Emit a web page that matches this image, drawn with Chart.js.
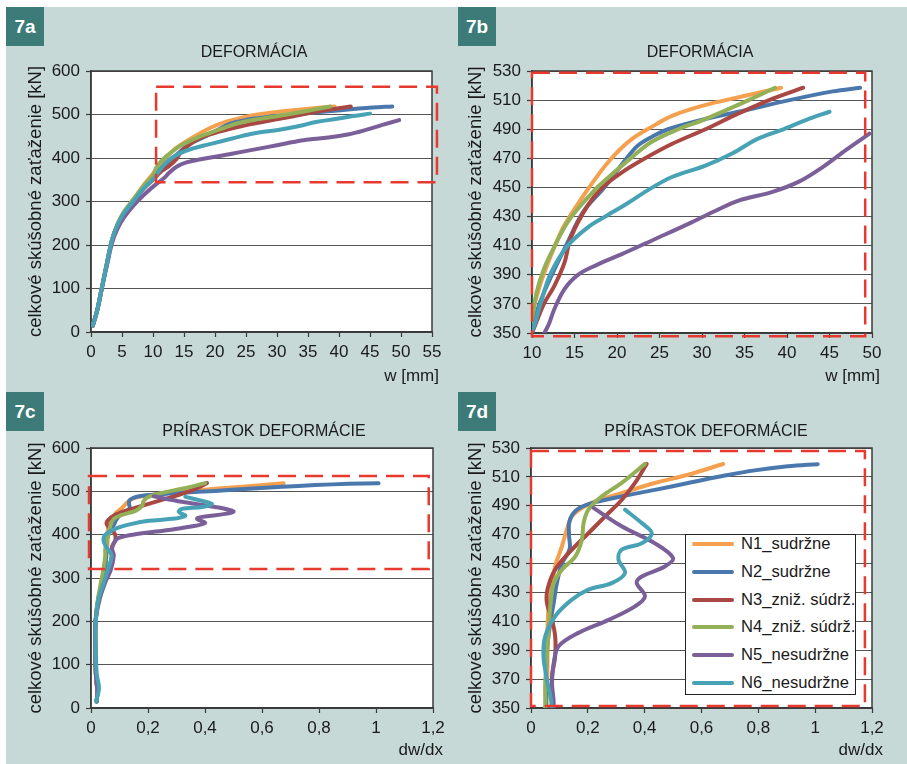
<!DOCTYPE html>
<html><head><meta charset="utf-8">
<script src="https://cdn.jsdelivr.net/npm/chart.js@4"></script>
<style>
html,body{margin:0;padding:0;background:#fff;}
body{width:907px;height:764px;position:relative;overflow:hidden;font-family:"Liberation Sans",Arial,sans-serif;color:#1a1a1a;}
#bg{position:absolute;left:6px;top:7px;right:0;bottom:0;background:#c6d9d7;}
canvas{position:absolute;}
.tag{position:absolute;width:38px;height:39px;background:#3c7b78;color:#fff;font-weight:bold;font-size:19px;display:flex;align-items:center;justify-content:center;}
.title{position:absolute;transform:translate(-50%,-50%);font-size:16px;white-space:nowrap;line-height:1;}
.xt{position:absolute;transform:translate(-100%,-50%);font-size:17px;white-space:nowrap;line-height:1;}
#legend{position:absolute;left:685px;top:534px;width:169px;height:159px;background:#fff;border:1px solid #222;}
.li{position:absolute;left:0;height:20px;transform:translateY(-50%);}
.li .sw{position:absolute;left:6px;top:8px;width:42px;height:4px;border-radius:2px;}
.li .tx{position:absolute;left:55px;top:1px;font-size:16.6px;line-height:18px;white-space:nowrap;}
</style></head>
<body>
<div id="bg"></div>
<canvas id="cA" width="445" height="383" style="left:6px;top:7px"></canvas>
<canvas id="cB" width="450" height="383" style="left:457px;top:7px"></canvas>
<canvas id="cC" width="445" height="374" style="left:6px;top:390px"></canvas>
<canvas id="cD" width="450" height="374" style="left:457px;top:390px"></canvas>
<div class="tag" style="left:6px;top:7px">7a</div>
<div class="tag" style="left:458px;top:7px">7b</div>
<div class="tag" style="left:6px;top:392px">7c</div>
<div class="tag" style="left:458px;top:392px">7d</div>
<div class="title" style="left:254px;top:52px">DEFORMÁCIA</div>
<div class="title" style="left:700px;top:52px">DEFORMÁCIA</div>
<div class="title" style="left:264px;top:431px">PRÍRASTOK DEFORMÁCIE</div>
<div class="title" style="left:706px;top:431px">PRÍRASTOK DEFORMÁCIE</div>
<div class="xt" style="left:439px;top:375px">w [mm]</div>
<div class="xt" style="left:880px;top:375px">w [mm]</div>
<div class="xt" style="left:443px;top:749px">dw/dx</div>
<div class="xt" style="left:883px;top:749px">dw/dx</div>
<div id="legend"></div>
<script>
// ---- series ----
const seriesNames = ['N1_sudržne','N2_sudržne','N3_zniž. súdrž.','N4_zniž. súdrž.','N5_nesudržne','N6_nesudržne'];
const seriesColors = ['#f5a04e','#4a78ad','#a94743','#93b057','#7a5f99','#47a2b6'];
const yAxisTitle = 'celkové skúšobné zaťaženie [kN]';

// deformation w [mm] vs total test load [kN]
const defN1 = [[0.3,15],[1.0,50],[1.8,105],[2.6,160],[3.4,212],[4.3,248],[5.3,275],[6.8,304],[8.5,338],[10,364],[11,384],[12,400],[13,414],[13.8,424],[16.6,449],[19.2,469],[21.7,483],[24.5,493],[26.4,499],[30,506],[34.3,512],[39.3,518.5]];
const defN2 = [[0.3,15],[1.0,50],[1.8,105],[2.6,160],[3.4,212],[4.3,247],[5.3,273],[6.8,300],[8.5,332],[10,354],[11,372],[12.5,392],[14,410],[16,433],[18.5,450],[21,469],[22.5,479],[24.5,486],[26,490],[30.4,497],[34.3,502],[40.3,510],[45.4,516],[48.6,518.5]];
const defN3 = [[0.3,15],[1.0,50],[1.8,105],[2.6,160],[3.4,212],[4.3,247],[5.3,273],[6.8,300],[8.5,330],[10,350],[11.4,370],[12.6,382],[13.8,398],[14.6,416],[16.6,438],[18.3,450],[20.5,460],[23.3,470],[26.5,480],[30.4,490],[34,500],[37.9,510],[41.9,518.5]];
const defN4 = [[0.3,15],[1.0,50],[1.8,105],[2.6,160],[3.4,212],[4.3,248],[5.3,276],[6.8,304],[8.5,336],[10,360],[10.5,377],[11.4,394],[12.6,409],[14.4,428],[17.5,449],[19.2,458],[21.6,470],[24,481],[27.2,490],[30.4,497],[35.5,510],[38.6,518.5]];
const defN5 = [[0.3,15],[1.0,50],[1.8,104],[2.6,155],[3.4,205],[4.3,238],[5.3,263],[6.8,290],[8.5,315],[10.5,340],[11.9,355],[12.6,366],[13.8,380],[15.4,390],[17.7,397],[20.5,404],[24.5,414.6],[28.4,425],[31.6,434],[34.3,441],[38.3,447],[41.4,454],[44.2,464],[47,476],[49.7,487]];
const defN6 = [[0.3,15],[1.0,50],[1.8,105],[2.6,160],[3.4,212],[4.3,247],[5.3,273],[6.8,300],[8.5,330],[10.2,354],[11,370],[12.2,391],[14.2,410],[16.6,422.7],[18.5,429.6],[21.2,439],[23.6,448],[26.4,457],[30.4,465],[33.6,473.5],[36.3,482.7],[39.4,489.6],[42.3,496.5],[45,502]];

// deformation increment dw/dx vs total test load [kN]
const rateN1 = [[0.02,15],[0.022,40],[0.017,80],[0.015,150],[0.016,200],[0.025,250],[0.04,290],[0.05,325],[0.055,355],[0.058,380],[0.058,404],[0.062,420],[0.074,434],[0.085,448],[0.109,462],[0.126,473.5],[0.144,482.7],[0.179,488.5],[0.226,493],[0.319,498.8],[0.436,505.8],[0.553,511.5],[0.676,518.9]];
const rateN2 = [[0.02,15],[0.022,40],[0.017,80],[0.015,150],[0.016,200],[0.025,250],[0.04,290],[0.05,325],[0.053,350],[0.053,372],[0.056,390],[0.068,409],[0.08,423],[0.091,436.5],[0.109,450],[0.136,460],[0.134,469],[0.134,478],[0.146,484],[0.17,488.5],[0.226,492.5],[0.319,496.5],[0.436,501],[0.553,505.8],[0.67,510.4],[0.787,514.5],[0.904,517.3],[1.009,518.8]];
const rateN3 = [[0.02,15],[0.022,40],[0.017,80],[0.015,150],[0.016,200],[0.027,250],[0.045,290],[0.065,325],[0.074,353.5],[0.074,372],[0.085,385.8],[0.085,399.6],[0.074,411],[0.056,422.7],[0.058,432],[0.085,445.8],[0.144,459.6],[0.202,471],[0.261,482.7],[0.319,494],[0.366,505.8],[0.407,519]];
const rateN4 = [[0.02,15],[0.022,40],[0.017,80],[0.015,150],[0.016,200],[0.024,250],[0.035,290],[0.045,325],[0.05,352.3],[0.05,367.3],[0.056,385.8],[0.062,404],[0.068,420.4],[0.08,436.5],[0.109,445.8],[0.156,455],[0.179,466.5],[0.185,478],[0.202,487.3],[0.249,496.5],[0.319,505.8],[0.401,519]];
const rateN5 = [[0.02,15],[0.022,40],[0.017,80],[0.015,150],[0.016,200],[0.03,250],[0.05,290],[0.07,320],[0.08,352.3],[0.074,367.3],[0.08,381],[0.097,392.7],[0.167,402],[0.273,411],[0.366,420.4],[0.401,427.3],[0.372,436.5],[0.39,441],[0.471,448],[0.5,453.8],[0.436,464],[0.319,475.8],[0.22,488.5]];
const rateN6 = [[0.018,15],[0.028,45],[0.02,80],[0.016,150],[0.017,200],[0.026,250],[0.045,290],[0.062,325],[0.072,352.3],[0.056,369.6],[0.044,385.8],[0.05,399.6],[0.085,413.5],[0.144,425],[0.202,432],[0.284,436.5],[0.331,443.5],[0.308,452.7],[0.319,459.6],[0.39,464],[0.425,471],[0.39,478],[0.331,487.3]];

// ---- tick labels ----
const wTicksFull = [0,5,10,15,20,25,30,35,40,45,50,55];
const wTicksZoom = [10,15,20,25,30,35,40,45,50];
const loadTicksFull = [0,100,200,300,400,500,600];
const loadTicksZoom = [350,370,390,410,430,450,470,490,510,530];
const rateTicks = [0,0.2,0.4,0.6,0.8,1,1.2];

// zoom-region frames [xMin, xMax, yMin, yMax] in data units
const frameA = [10.5, 55.8, 344, 564];
const frameB = [10, 49.2, 347.7, 528.8];
const frameC = [-0.007, 1.185, 321, 535.4];
const frameD = [0, 1.175, 351.4, 527.9];

const defSeries = [defN1,defN2,defN3,defN4,defN5,defN6];
const rateSeries = [rateN1,rateN2,rateN3,rateN4,rateN5,rateN6];

Chart.defaults.font.family = '"Liberation Sans", Arial, sans-serif';
Chart.defaults.color = '#1a1a1a';

const fmt = v => String(Math.round(v*10)/10).replace('.', ',');

function panelPlugin(frame){
  return {
    id:'panel',
    beforeDraw(c){
      const a=c.chartArea, ctx=c.ctx;
      ctx.save(); ctx.fillStyle='#fff';
      ctx.fillRect(a.left,a.top,a.right-a.left,a.bottom-a.top); ctx.restore();
    },
    beforeDatasetsDraw(c){
      const a=c.chartArea, ctx=c.ctx;
      ctx.save(); ctx.strokeStyle='#3a3a3a'; ctx.lineWidth=1.5;
      ctx.strokeRect(a.left,a.top,a.right-a.left,a.bottom-a.top); ctx.restore();
    },
    afterDatasetsDraw(c){
      const xs=c.scales.x, ys=c.scales.y, ctx=c.ctx;
      const x0=xs.getPixelForValue(frame[0]), x1=xs.getPixelForValue(frame[1]);
      const y0=ys.getPixelForValue(frame[3]), y1=ys.getPixelForValue(frame[2]);
      ctx.save(); ctx.strokeStyle='#e8392f'; ctx.lineWidth=2.5; ctx.setLineDash([18,9]);
      ctx.strokeRect(x0,y0,x1-x0,y1-y0); ctx.restore();
    }
  };
}

function makeChart(id, series, xt, yt, frame, g){
  return new Chart(document.getElementById(id), {
    type:'line',
    data:{datasets: series.map((d,i)=>({
      label:seriesNames[i], data:d, borderColor:seriesColors[i], backgroundColor:seriesColors[i],
      borderWidth:4, pointRadius:0, pointHoverRadius:0, tension:0.35, fill:false,
      order:series.length-1-i, borderCapStyle:'round', borderJoinStyle:'round'
    }))},
    options:{
      responsive:false, animation:false, devicePixelRatio:1, events:[],
      layout:{padding:{left:0,right:g.pr,top:g.pt,bottom:g.pb}},
      plugins:{legend:{display:false}, tooltip:{enabled:false}, title:{display:false}},
      scales:{
        x:{type:'linear', min:xt[0], max:xt[xt.length-1],
           afterBuildTicks:s=>{s.ticks=xt.map(v=>({value:v}));},
           afterFit:s=>{s.height=g.xh;},
           grid:{drawOnChartArea:false, drawTicks:true, tickLength:5, tickColor:'#3a3a3a', tickWidth:1.2},
           border:{display:true, color:'#3a3a3a', width:1.5},
           ticks:{font:{size:17}, color:'#1a1a1a', padding:5, maxRotation:0, autoSkip:false, callback:v=>fmt(v)}},
        y:{type:'linear', min:yt[0], max:yt[yt.length-1],
           afterBuildTicks:s=>{s.ticks=yt.map(v=>({value:v}));},
           afterFit:s=>{s.width=g.yw;},
           grid:{color:'#555', lineWidth:1, drawTicks:true, tickLength:5, tickColor:'#3a3a3a', tickWidth:1.2},
           border:{display:true, color:'#3a3a3a', width:1.5},
           ticks:{font:{size:17}, color:'#1a1a1a', padding:6, autoSkip:false, callback:v=>fmt(v)},
           title:{display:true, text:yAxisTitle, font:{size:18.5}, color:'#1a1a1a', padding:{top:g.tp,bottom:0}}}
      }
    },
    plugins:[panelPlugin(frame)]
  });
}

makeChart('cA', defSeries, wTicksFull, loadTicksFull, frameA, {yw:85, pr:19, pt:64, pb:18, xh:40, tp:19});
makeChart('cB', defSeries, wTicksZoom, loadTicksZoom, frameB, {yw:75, pr:35, pt:64, pb:17, xh:40, tp:8});
makeChart('cC', rateSeries, rateTicks, loadTicksFull, frameC, {yw:85, pr:18, pt:58, pb:16, xh:40, tp:19});
makeChart('cD', rateSeries, rateTicks, loadTicksZoom, frameD, {yw:74, pr:35, pt:58, pb:16, xh:40, tp:8});

// legend (inside panel 7d)
const lg = document.getElementById('legend');
seriesNames.forEach((n,i)=>{
  const d=document.createElement('div'); d.className='li';
  d.style.top=(9+i*27.8)+'px'; d.style.width='169px';
  d.innerHTML='<span class="sw" style="background:'+seriesColors[i]+'"></span><span class="tx">'+n+'</span>';
  lg.appendChild(d);
});
</script>
</body></html>
